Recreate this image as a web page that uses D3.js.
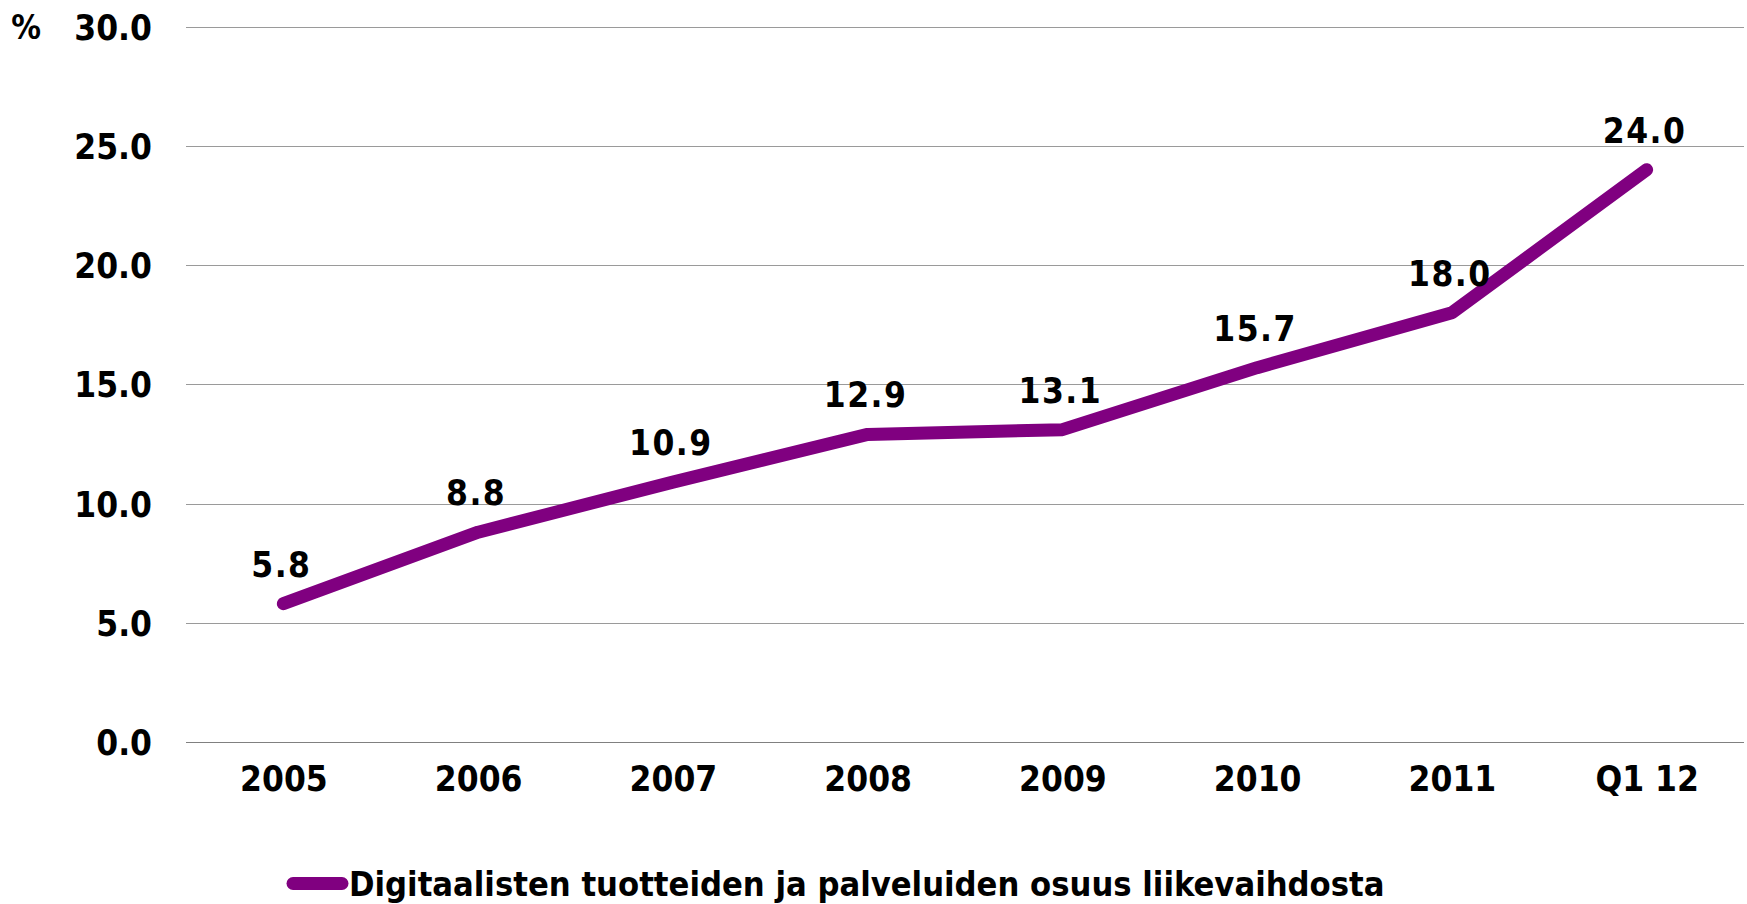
<!DOCTYPE html>
<html>
<head>
<meta charset="utf-8">
<script src="https://cdn.jsdelivr.net/npm/d3@7"></script>
<style>
  body { margin: 0; background: #fff; }
  svg text { font-family: "DejaVu Sans Condensed", "DejaVu Sans", sans-serif; font-weight: bold; font-stretch: condensed; fill: #000; }
</style>
</head>
<body>
<div id="content"></div>
<script>
const categories = ["2005", "2006", "2007", "2008", "2009", "2010", "2011", "Q1 12"];
const shares = [5.8, 8.8, 10.9, 12.9, 13.1, 15.7, 18.0, 24.0];
const yTicks = [0, 5, 10, 15, 20, 25, 30];
const seriesName = "Digitaalisten tuotteiden ja palveluiden osuus liikevaihdosta";
const unitLabel = "%";

const w = 1747;
const h = 904;
const plotLeft = 186, plotRight = 1744, plotTop = 26.7, plotBottom = 742;

const svg = d3.select("#content").append("svg")
  .attr("width", w).attr("height", h);

const xScale = d3.scalePoint()
  .domain(categories)
  .range([plotLeft, plotRight])
  .padding(0.5);

const yScale = d3.scaleLinear()
  .domain([0, 30])
  .range([plotBottom, plotTop]);

// gridlines
svg.append("g").selectAll("line").data(yTicks).enter().append("line")
  .attr("x1", plotLeft).attr("x2", plotRight)
  .attr("y1", d => Math.round(yScale(d)) + 0.5)
  .attr("y2", d => Math.round(yScale(d)) + 0.5)
  .attr("stroke", d => d === 0 ? "#808080" : "#9a9a9a")
  .attr("stroke-width", 1);

// y axis
const yAxis = d3.axisLeft(yScale).tickValues(yTicks).tickFormat(d3.format(".1f")).tickSize(0).tickPadding(0);
const gy = svg.append("g")
  .attr("transform", "translate(152,0)")
  .call(yAxis);
gy.select(".domain").remove();
gy.selectAll("text").attr("font-size", 35).attr("font-family", null).attr("dy", "0.36em");

svg.append("text")
  .attr("x", 26).attr("y", plotTop)
  .attr("dy", "0.36em")
  .attr("text-anchor", "middle")
  .attr("font-size", 33)
  .text(unitLabel);

// x axis
const xAxis = d3.axisBottom(xScale).tickSize(0).tickPadding(0);
const gx = svg.append("g")
  .attr("transform", "translate(0," + plotBottom + ")")
  .call(xAxis);
gx.select(".domain").remove();
gx.selectAll("text").attr("font-size", 35).attr("font-family", null).attr("dy", null).attr("y", 49);

// line
const points = categories.map((c, i) => [c, shares[i]]);
const line = d3.line().x(d => xScale(d[0])).y(d => yScale(d[1]));
svg.append("path")
  .datum(points)
  .attr("d", line)
  .attr("fill", "none")
  .attr("stroke", "#800080")
  .attr("stroke-width", 13)
  .attr("stroke-linecap", "round")
  .attr("stroke-linejoin", "round");

// data labels
svg.append("g").selectAll("text").data(points).enter().append("text")
  .attr("x", d => xScale(d[0]) - 2)
  .attr("y", d => yScale(d[1]) - 27)
  .attr("text-anchor", "middle")
  .attr("font-size", 35)
  .attr("letter-spacing", 1.5)
  .text(d => d[1].toFixed(1));

// legend
const legend = svg.append("g");
legend.append("line")
  .attr("x1", 293).attr("x2", 342)
  .attr("y1", 883.5).attr("y2", 883.5)
  .attr("stroke", "#800080")
  .attr("stroke-width", 13)
  .attr("stroke-linecap", "round");
legend.append("text")
  .attr("x", 349).attr("y", 896)
  .attr("font-size", 34.2)
  .text(seriesName);
</script>
</body>
</html>
